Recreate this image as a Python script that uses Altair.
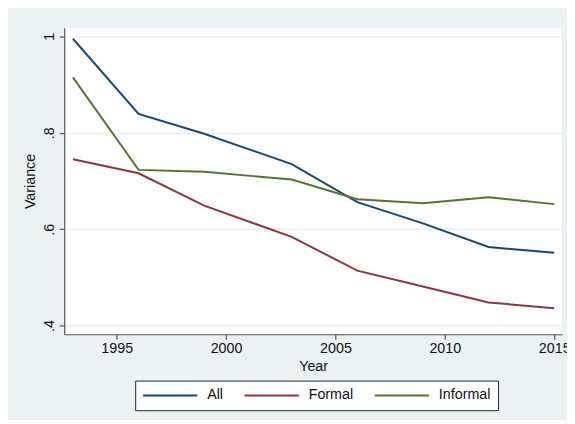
import altair as alt
import pandas as pd

years = [1993, 1996, 1999, 2003, 2006, 2009, 2012, 2015]
all_v = [0.995, 0.839, 0.798, 0.735, 0.656, 0.612, 0.563, 0.551]
formal_v = [0.745, 0.716, 0.649, 0.584, 0.514, 0.481, 0.448, 0.436]
informal_v = [0.915, 0.723, 0.719, 0.703, 0.662, 0.654, 0.666, 0.652]

series = ["All", "Formal", "Informal"]
colors = ["#1a476f", "#90353b", "#55752f"]
y_ticks = [0.4, 0.6, 0.8, 1.0]
x_ticks = [1995, 2000, 2005, 2010, 2015]

rows = []
for name, vals in zip(series, [all_v, formal_v, informal_v]):
    for yr, v in zip(years, vals):
        rows.append({"Year": yr, "Variance": v, "Series": name})
df = pd.DataFrame(rows)

FONT = "Liberation Sans"
FS = 14.5

chart = alt.Chart(df).mark_line(strokeWidth=2).encode(
    x=alt.X("Year:Q",
            scale=alt.Scale(domain=[1992.6, 2015.36], nice=False, zero=False),
            axis=alt.Axis(values=x_ticks, format="d", grid=False, title="Year",
                          tickSize=5, labelPadding=2, titlePadding=5,
                          labelFontSize=FS, titleFontSize=FS)),
    y=alt.Y("Variance:Q",
            scale=alt.Scale(domain=[0.382, 1.018], nice=False, zero=False),
            axis=alt.Axis(values=y_ticks, grid=True, gridColor="#E6EEF0", gridWidth=1.2,
                          title="Variance", tickSize=5, labelAngle=270,
                          labelAlign="center", labelBaseline="bottom", labelPadding=3,
                          labelExpr="datum.value >= 0.999 ? '1' : replace(format(datum.value, '.1f'), '0.', '.')",
                          labelFontSize=FS, titleFontSize=FS, titlePadding=4)),
    color=alt.Color("Series:N",
                    scale=alt.Scale(domain=series, range=colors),
                    legend=alt.Legend(title=None, orient="none", legendX=72, legendY=358,
                                      direction="horizontal", columns=3,
                                      symbolType="stroke", symbolSize=3025,
                                      symbolStrokeWidth=2, clipHeight=16,
                                      labelFontSize=FS, labelOffset=9,
                                      columnPadding=20, padding=7,
                                      strokeColor="#222222", fillColor="white")),
).properties(
    width=505, height=311,
    autosize=alt.AutoSizeParams(type="none"),
    padding={"left": 57, "top": 17, "right": 5, "bottom": 84},
    background="#EAF2F3",
).configure_view(
    fill="white", stroke=None
).configure_axis(
    domainColor="#555555", tickColor="#555555", labelColor="#111111",
    titleColor="#111111", labelFont=FONT, titleFont=FONT, titleFontWeight="normal",
    domainWidth=1.2, tickWidth=1.2
).configure_legend(
    labelFont=FONT, labelColor="#111111"
)

chart.save("out.html", embed_options={"renderer": "svg", "actions": False})
